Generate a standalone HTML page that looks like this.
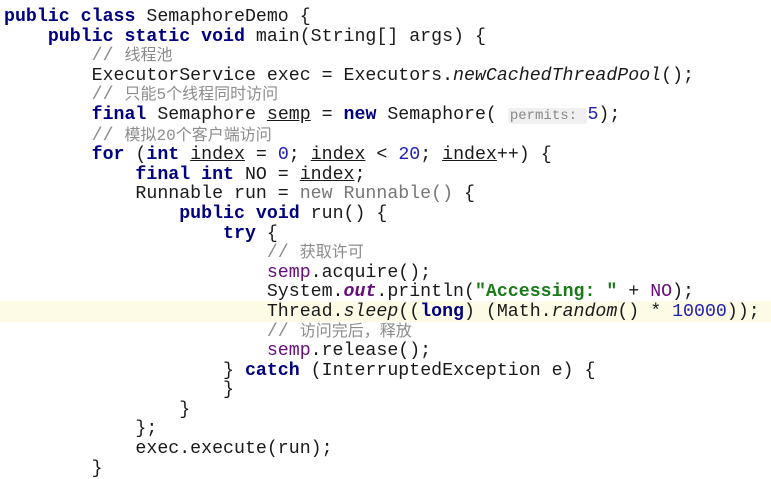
<!DOCTYPE html>
<html><head><meta charset="utf-8"><style>
html,body{margin:0;padding:0;background:#fff;width:771px;height:470px;overflow:hidden}
.c{position:absolute;left:4px;top:8px;font-family:"Liberation Mono","Noto Sans CJK SC",monospace;font-size:18.25px;line-height:19.6px;color:#1a1a1a;white-space:pre;margin:0}
.k{color:#000080;font-weight:bold}
.cm{color:#8c8c8c}
.cm .z{font-size:16px}
.n{color:#1f1fb0}
.s{color:#1a7a1a;font-weight:bold}
.p{color:#660e7a}
.i{font-style:italic}
.u{text-decoration:underline}
.g{color:#777}
.h{font-size:14px;color:#888;background:#f0f0f0;padding:0 2px;border-radius:3px}
.hl{position:absolute;left:0;top:301px;width:771px;height:21px;background:#fdfbe6}
</style></head><body>
<div class="hl"></div>
<pre class="c"><span class="k">public class</span> SemaphoreDemo {
    <span class="k">public static void</span> main(String[] args) {
        <span class="cm">// <span class="z">线程池</span></span>
        ExecutorService exec = Executors.<span class="i">newCachedThreadPool</span>();
        <span class="cm">// <span class="z">只能5个线程同时访问</span></span>
        <span class="k">final</span> Semaphore <span class="u">semp</span> = <span class="k">new</span> Semaphore( <span class="h">permits: </span><span class="n">5</span>);
        <span class="cm">// <span class="z">模拟20个客户端访问</span></span>
        <span class="k">for</span> (<span class="k">int</span> <span class="u">index</span> = <span class="n">0</span>; <span class="u">index</span> &lt; <span class="n">20</span>; <span class="u">index</span>++) {
            <span class="k">final int</span> NO = <span class="u">index</span>;
            Runnable run = <span class="g">new Runnable()</span> {
                <span class="k">public void</span> run() {
                    <span class="k">try</span> {
                        <span class="cm">// <span class="z">获取许可</span></span>
                        <span class="p">semp</span>.acquire();
                        System.<span class="p i" style="font-weight:bold">out</span>.println(<span class="s">"Accessing: "</span> + <span class="p">NO</span>);
                        Thread.<span class="i">sleep</span>((<span class="k">long</span>) (Math.<span class="i">random</span>() * <span class="n">10000</span>));
                        <span class="cm">// <span class="z">访问完后，释放</span></span>
                        <span class="p">semp</span>.release();
                    } <span class="k">catch</span> (InterruptedException e) {
                    }
                }
            };
            exec.execute(run);
        }</pre>
</body></html>
